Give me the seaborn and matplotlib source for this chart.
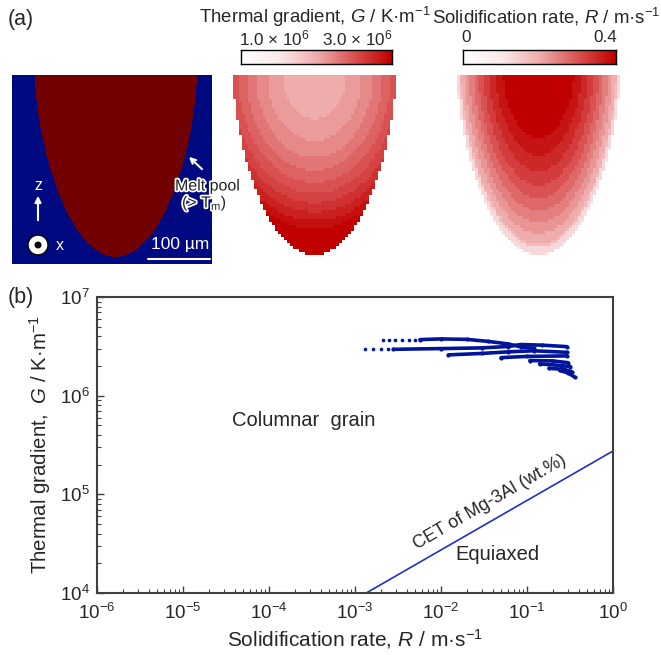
import numpy as np
import pandas as pd
import matplotlib
matplotlib.use("Agg")
import matplotlib.pyplot as plt
import seaborn as sns
from matplotlib.colors import LinearSegmentedColormap, ListedColormap
from matplotlib.ticker import LogLocator, NullFormatter
import matplotlib.patheffects as pe
from matplotlib.patches import Circle

# ---------------- data ----------------
# melt-pool geometry (µm)
POOL_HALF_WIDTH = 135.0
POOL_DEPTH = 303.0
POOL_SHAPE_EXP = 1.6
SCALE_BAR_UM = 100

# colour-bar ranges
G_RANGE = [1.0e6, 3.0e6]
R_RANGE = [0.0, 0.4]
G_TICK_LABELS = ["1.0 × 10$^{6}$", "3.0 × 10$^{6}$"]
R_TICK_LABELS = ["0", "0.4"]
# G field: centre value, lateral increase, depth increase (K/m)
G_CENTRE, G_LATERAL, G_DEPTH = 1.97e6, 0.55e6, 1.35e6
G_STEP = 0.1e6
# R field: boundary value, centre increase, quantisation step (m/s)
R_EDGE, R_RISE, R_STEP = 0.16, 0.28, 0.025

# G-R traces along melt pool (panel b)
curve_A_R = [5.7e-3, 0.01, 0.02, 0.035, 0.06, 0.085, 0.12]
curve_A_G = [3.70e6, 3.76e6, 3.72e6, 3.55e6, 3.35e6, 3.12e6, 3.02e6]
curve_B_R = [2.8e-3, 0.01, 0.03, 0.06, 0.085, 0.15, 0.29]
curve_B_G = [2.95e6, 3.00e6, 3.05e6, 3.15e6, 3.30e6, 3.25e6, 3.14e6]
curve_C_R = [0.0122, 0.03, 0.06, 0.12, 0.29]
curve_C_G = [2.59e6, 2.68e6, 2.78e6, 2.85e6, 2.75e6]
curve_D_R = [0.05, 0.10, 0.29]
curve_D_G = [2.43e6, 2.50e6, 2.53e6]
curve_E_R = [0.108, 0.20, 0.30]
curve_E_G = [2.27e6, 2.25e6, 2.16e6]
curve_F_R = [0.14, 0.25, 0.32]
curve_F_G = [2.10e6, 2.02e6, 1.97e6]
curve_G_R = [0.18, 0.27, 0.33]
curve_G_G = [1.89e6, 1.85e6, 1.75e6]
curve_H_R = [0.24, 0.30, 0.36]
curve_H_G = [1.80e6, 1.70e6, 1.54e6]
dots_R = [2.1e-3, 2.5e-3, 2.9e-3, 3.5e-3, 4.3e-3, 5.0e-3, 1.31e-3, 1.6e-3, 2.0e-3, 2.4e-3]
dots_G = [3.67e6, 3.67e6, 3.67e6, 3.67e6, 3.67e6, 3.67e6, 2.95e6, 2.95e6, 2.95e6, 2.95e6]
# CET line of Mg-3Al
cet_R = [1.35e-3, 1.0]
cet_G = [1.0e4, 2.75e5]

x_ticks = [1e-6, 1e-5, 1e-4, 1e-3, 1e-2, 1e-1, 1e0]
y_ticks = [1e4, 1e5, 1e6, 1e7]

# ---------------- style ----------------
W, H = 661, 655
sns.set_style("white")
plt.rcParams['font.family'] = ['Liberation Sans', 'DejaVu Sans']
plt.rcParams['mathtext.fontset'] = 'custom'
plt.rcParams['mathtext.rm'] = 'Liberation Sans'
plt.rcParams['mathtext.it'] = 'Liberation Sans:italic'
plt.rcParams['mathtext.default'] = 'regular'

NAVY_BG = "#000a80"
POOL_RED = "#720000"
TRACE = "#00159a"
CET_COL = "#1f2fd0"
cmap = LinearSegmentedColormap.from_list(
    "wr", ["#ffffff", "#fbeaea", "#efadad", "#d95252", "#c00000"])

fig = plt.figure(figsize=(W / 100, H / 100), dpi=100)


def rect(x0, y0, x1, y1):
    return [x0 / W, 1 - y1 / H, (x1 - x0) / W, (y1 - y0) / H]


def fx(px):
    return px / W


def fy(py):
    return 1 - py / H


def pool_rho(x, z):
    return (x / POOL_HALF_WIDTH) ** 2 + (np.clip(z, 0, None) / POOL_DEPTH) ** POOL_SHAPE_EXP


# ---------------- panel (a): melt pool ----------------
ax0 = fig.add_axes(rect(12, 75, 212, 264))
xs = -173 + (np.arange(200) + 0.5) / 200 * 333
zs = (np.arange(189) + 0.5) / 189 * 315
X, Z = np.meshgrid(xs, zs)
inside = (pool_rho(X, Z) <= 1).astype(float)
sns.heatmap(inside, ax=ax0, cmap=ListedColormap([NAVY_BG, POOL_RED]), vmin=0, vmax=1,
            cbar=False, xticklabels=False, yticklabels=False, rasterized=True)
ax0.set_xlabel("")
ax0.set_ylabel("")

fig.add_artist(plt.Line2D([fx(148), fx(210)], [fy(259), fy(259)], color="white", lw=1.5))
fig.text(fx(180), fy(244), "100 µm", color="white", ha="center", va="center", fontsize=12.5)
fig.add_artist(matplotlib.patches.FancyArrowPatch((fx(38), fy(223)), (fx(38), fy(193)),
               transform=fig.transFigure, arrowstyle="-|>", mutation_scale=9,
               color="white", lw=1.5))
fig.text(fx(38), fy(185), "z", color="white", ha="center", va="center", fontsize=11.5)
fig.add_artist(Circle((fx(38), fy(245)), 10 / W, transform=fig.transFigure,
                      facecolor="white", edgecolor="black", lw=1))
fig.add_artist(Circle((fx(38), fy(245)), 3.5 / W, transform=fig.transFigure,
                      facecolor="black", edgecolor="none"))
fig.text(fx(60), fy(246), "x", color="white", ha="center", va="center", fontsize=11.5)
fig.add_artist(matplotlib.patches.FancyArrowPatch((fx(204), fy(171)), (fx(187), fy(155)),
               transform=fig.transFigure, arrowstyle="->", mutation_scale=9,
               color="white", lw=1.5))
halo = [pe.withStroke(linewidth=2.5, foreground="white")]
fig.text(fx(175), fy(186), "Melt pool", color="#222222", ha="left", va="center",
         fontsize=11.5, path_effects=halo)
fig.text(fx(182), fy(203), "(> T$_{m}$)", color="#222222", ha="left", va="center",
         fontsize=11.5, path_effects=halo)

# ---------------- panel (a): G and R maps ----------------
ncol, nrow = 54, 60
mx = -POOL_HALF_WIDTH + (np.arange(ncol) + 0.5) / ncol * 2 * POOL_HALF_WIDTH
mz = (np.arange(nrow) + 0.5) / nrow * POOL_DEPTH
MX, MZ = np.meshgrid(mx, mz)
rho = pool_rho(MX, MZ)
mask = rho > 1

G_field = G_CENTRE + G_LATERAL * (MX / POOL_HALF_WIDTH) ** 2 + G_DEPTH * (MZ / POOL_DEPTH) ** 2
G_field = np.round(G_field / G_STEP) * G_STEP
R_field = R_EDGE + R_RISE * np.clip(1 - rho, 0, 1)
R_field = np.round(R_field / R_STEP) * R_STEP
# outermost ring fades out (anti-aliased look)
R_field = np.where(rho > 0.93, R_field * 0.75, R_field)

axG = fig.add_axes(rect(233, 75, 396, 255))
sns.heatmap(G_field, ax=axG, mask=mask, cmap=cmap, vmin=G_RANGE[0], vmax=G_RANGE[1],
            cbar=False, xticklabels=False, yticklabels=False, rasterized=True)
axR = fig.add_axes(rect(457, 75, 620, 255))
sns.heatmap(R_field, ax=axR, mask=mask, cmap=cmap, vmin=R_RANGE[0], vmax=R_RANGE[1],
            cbar=False, xticklabels=False, yticklabels=False, rasterized=True)
for a in (axG, axR):
    a.set_xlabel("")
    a.set_ylabel("")

# colour bars
grad = np.linspace(0, 1, 256)[None, :]
for (x0, x1), labels, title, tx in [((241, 392), G_TICK_LABELS,
                                     "Thermal gradient, $\\it{G}$ / K·m$^{-1}$", 315),
                                    ((463, 616), R_TICK_LABELS,
                                     "Solidification rate, $\\it{R}$ / m·s$^{-1}$", 546)]:
    cax = fig.add_axes(rect(x0, 50, x1, 64))
    cax.imshow(grad, aspect="auto", cmap=cmap, extent=[0, 1, 0, 1])
    cax.set_xticks([])
    cax.set_yticks([])
    for s in cax.spines.values():
        s.set_visible(True)
        s.set_color("black")
        s.set_linewidth(1)
    fig.text(fx(x0 - 2), fy(38), labels[0], ha="left", va="center", fontsize=12.3)
    fig.text(fx(x1 + 1), fy(38), labels[1], ha="right", va="center", fontsize=12.3)
    fig.text(fx(tx), fy(17), title, ha="center", va="center", fontsize=13.4)

fig.text(fx(8), fy(20), "(a)", ha="left", va="center", fontsize=15.5)
fig.text(fx(8), fy(297), "(b)", ha="left", va="center", fontsize=15.5)

# ---------------- panel (b) ----------------
axb = fig.add_axes(rect(97, 297, 613, 593))
curves = []
for name, rr, gg in [("A", curve_A_R, curve_A_G), ("B", curve_B_R, curve_B_G),
                     ("C", curve_C_R, curve_C_G), ("D", curve_D_R, curve_D_G),
                     ("E", curve_E_R, curve_E_G), ("F", curve_F_R, curve_F_G),
                     ("G", curve_G_R, curve_G_G), ("H", curve_H_R, curve_H_G)]:
    curves.append(pd.DataFrame({"R": rr, "G": gg, "curve": name}))
df = pd.concat(curves, ignore_index=True)
sns.lineplot(data=df, x="R", y="G", units="curve", estimator=None, sort=False,
             color=TRACE, lw=2.6, marker="o", markersize=3, markeredgewidth=0, ax=axb)
sns.scatterplot(x=dots_R, y=dots_G, s=7, color=TRACE, linewidth=0, ax=axb)
sns.lineplot(x=cet_R, y=cet_G, color=CET_COL, lw=1.2, ax=axb)

axb.set_xscale("log")
axb.set_yscale("log")
axb.set_xlim(1e-6, 1)
axb.set_ylim(1e4, 1e7)
axb.set_xticks(x_ticks)
axb.set_yticks(y_ticks)
axb.xaxis.set_minor_locator(LogLocator(base=10, subs=np.arange(2, 10), numticks=100))
axb.yaxis.set_minor_locator(LogLocator(base=10, subs=np.arange(2, 10), numticks=100))
axb.xaxis.set_minor_formatter(NullFormatter())
axb.yaxis.set_minor_formatter(NullFormatter())
axb.tick_params(which="both", direction="in", bottom=True, left=True, top=False,
                right=False, color="#404040", labelsize=13.5)
axb.tick_params(which="major", length=5, width=1)
axb.tick_params(which="minor", length=3, width=0.8)
axb.tick_params(axis="x", pad=7)
axb.tick_params(axis="y", pad=5)
for s in axb.spines.values():
    s.set_color("#404040")
    s.set_linewidth(1.5)
axb.set_xlabel("Solidification rate, $\\it{R}$ / m·s$^{-1}$", fontsize=15, labelpad=3)
axb.set_ylabel("Thermal gradient,  $\\it{G}$ / K·m$^{-1}$", fontsize=14.7, labelpad=5)

axb.text(2.5e-4, 5.6e5, "Columnar  grain", ha="center", va="center", fontsize=14.5)
axb.text(0.045, 2.45e4, "Equiaxed", ha="center", va="center", fontsize=14.5)
axb.text(0.037, 8.3e4, "CET of Mg-3Al (wt.%)", ha="center", va="center", fontsize=13,
         rotation=30, rotation_mode="anchor")

fig.savefig("out.png", dpi=100)
